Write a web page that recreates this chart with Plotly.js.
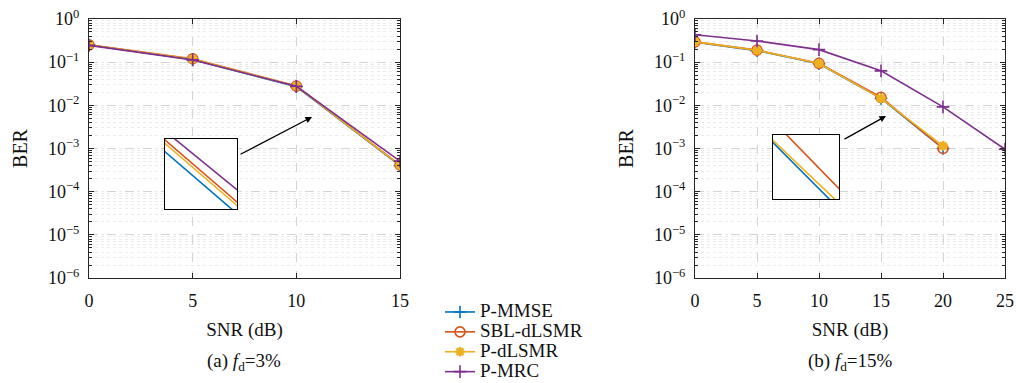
<!DOCTYPE html>
<html><head><meta charset="utf-8">
<script src="https://cdn.plot.ly/plotly-3.0.1.min.js"></script>
<style>html,body{margin:0;padding:0;background:#fff;overflow:hidden}#c{width:1016px;height:383px}</style>
</head><body><div id="c"></div>
<script>
// ---- data ----
const snrA = [0, 5, 10, 15];
const pmmseA = [0.25, 0.115, 0.027, 4.0e-4];
const sblA   = [0.252, 0.12, 0.028, 4.15e-4];
const pdlA   = [0.25, 0.118, 0.0277, 4.1e-4];
const pmrcA  = [0.245, 0.113, 0.0277, 5.1e-4];

const snrB = [0, 5, 10, 15, 20];
const snrBmrc = [0, 5, 10, 15, 20, 25];
const pmmseB = [0.29, 0.185, 0.092, 0.0145, 1.0e-3];
const sblB   = [0.295, 0.19, 0.094, 0.01536, 1.0e-3];
const pdlB   = [0.295, 0.188, 0.093, 0.0145, 1.15e-3];
const pmrcB  = [0.43, 0.31, 0.195, 0.063, 0.0092, 9.6e-4];

const names = ['P-MMSE', 'SBL-dLSMR', 'P-dLSMR', 'P-MRC'];
const xTicksA = [0, 5, 10, 15];
const xTicksB = [0, 5, 10, 15, 20, 25];
const yTickVals = [1e-6, 1e-5, 1e-4, 1e-3, 1e-2, 1e-1, 1];
const yTickText = ['10<sup>−6</sup>','10<sup>−5</sup>','10<sup>−4</sup>','10<sup>−3</sup>','10<sup>−2</sup>','10<sup>−1</sup>','10<sup>0</sup>'];
const captions = ['(a) <i>f</i><sub>d</sub>=3%', '(b) <i>f</i><sub>d</sub>=15%'];

// ---- styles ----
const colors = ['#0072BD', '#D95319', '#EDB120', '#7E2F8E'];
const F = 'Liberation Serif';
const markers = [
  {symbol: 'cross-thin-open', size: 9, line: {width: 1.6, color: colors[0]}, color: colors[0]},
  {symbol: 'circle-open', size: 10, line: {width: 1.6, color: colors[1]}, color: colors[1]},
  {symbol: 'asterisk-open', size: 8, line: {width: 2.6, color: colors[2]}, color: colors[2]},
  {symbol: 'cross-thin-open', size: 9, line: {width: 1.6, color: colors[3]}, color: colors[3]}
];
const legendName = n => '<span style="font-size:19px">' + n + '</span>';

const A = [pmmseA, sblA, pdlA, pmrcA];
const B = [pmmseB, sblB, pdlB, pmrcB];
const traces = [];
for (let i = 0; i < 4; i++) {
  traces.push({x: snrA, y: A[i], xaxis: 'x', yaxis: 'y', mode: 'lines+markers', name: legendName(names[i]),
    line: {color: colors[i], width: 1.6}, marker: markers[i], legendgroup: names[i], showlegend: true});
}
for (let i = 0; i < 4; i++) {
  traces.push({x: i === 3 ? snrBmrc : snrB, y: B[i], xaxis: 'x2', yaxis: 'y2', mode: 'lines+markers', name: names[i],
    line: {color: colors[i], width: 1.6}, marker: markers[i], legendgroup: names[i], showlegend: false});
}
// insets (zoomed views of the same data)
for (let i = 0; i < 4; i++) {
  traces.push({x: snrA, y: A[i], xaxis: 'x3', yaxis: 'y3', mode: 'lines', showlegend: false,
    line: {color: colors[i], width: 1.6}, hoverinfo: 'skip'});
}
for (let i = 0; i < 4; i++) {
  traces.push({x: i === 3 ? snrBmrc : snrB, y: B[i], xaxis: 'x4', yaxis: 'y4', mode: 'lines', showlegend: false,
    line: {color: colors[i], width: 1.6}, hoverinfo: 'skip'});
}

const yDom = [1 - 278/383, 1 - 19/383];
function xAx(dom, range, ticks, anchor) {
  return {domain: dom, range: range, anchor: anchor, tickvals: ticks, ticktext: ticks.map(String), automargin: false,
    showline: true, linecolor: '#262626', linewidth: 1, mirror: 'allticks', ticks: 'inside', ticklen: 5,
    tickcolor: '#262626', showgrid: true, gridcolor: '#d4d4d4', griddash: 'dash', gridwidth: 1, zeroline: false,
    tickfont: {family: F, size: 18, color: '#111'}, ticklabelstandoff: 6,
    title: {text: 'SNR (dB)', font: {family: F, size: 19, color: '#111'}, standoff: 13}};
}
function yAx(anchor) {
  return {domain: yDom, type: 'log', range: [-6, 0], anchor: anchor, tickvals: yTickVals, ticktext: yTickText, automargin: false,
    showline: true, linecolor: '#262626', linewidth: 1, mirror: 'allticks', ticks: 'inside', ticklen: 5,
    tickcolor: '#262626', showgrid: true, gridcolor: '#d4d4d4', griddash: 'dash', zeroline: false,
    minor: {dtick: 'D1', ticks: 'inside', ticklen: 3, tickcolor: '#262626', showgrid: true, gridcolor: '#ebebeb', griddash: 'dot'},
    tickfont: {family: F, size: 18, color: '#111'}, ticklabelstandoff: 5,
    title: {text: 'BER', font: {family: F, size: 20, color: '#111'}, standoff: 14}};
}
function insetX(dom, range, anchor) {
  return {domain: dom, range: range, anchor: anchor, showline: true, mirror: true, linecolor: '#000', linewidth: 1.3,
    showgrid: false, zeroline: false, ticks: '', showticklabels: false, automargin: false};
}
function insetY(dom, range, anchor) {
  return {domain: dom, type: 'log', range: range, anchor: anchor, showline: true, mirror: true, linecolor: '#000', linewidth: 1.3,
    showgrid: false, zeroline: false, ticks: '', showticklabels: false, automargin: false};
}

const layout = {
  width: 1016, height: 383, margin: {l: 0, r: 0, t: 0, b: 0, autoexpand: false},
  paper_bgcolor: '#fff', plot_bgcolor: '#fff', font: {family: F, color: '#111'},
  xaxis: xAx([89/1016, 400/1016], [0, 15], xTicksA, 'y'),
  yaxis: yAx('x'),
  xaxis2: xAx([695/1016, 1005/1016], [0, 25], xTicksB, 'y2'),
  yaxis2: yAx('x2'),
  xaxis3: insetX([165/1016, 237/1016], [10.9, 11.13], 'y3'),
  yaxis3: insetY([1 - 209/383, 1 - 139/383], [-1.9757, -1.8807], 'x3'),
  xaxis4: insetX([773/1016, 839/1016], [15.2, 15.516], 'y4'),
  yaxis4: insetY([1 - 199/383, 1 - 135/383], [-1.9476, -1.8766], 'x4'),
  showlegend: true,
  legend: {x: 440/1016, y: 1 - 297/383, xanchor: 'left', yanchor: 'top', bgcolor: 'rgba(255,255,255,0)',
    font: {family: F, size: 13, color: '#111'}, tracegroupgap: 0, itemwidth: 30},
  annotations: [
    {text: captions[0], xref: 'paper', yref: 'paper', x: 244/1016, y: 1 - 362/383, showarrow: false,
      font: {family: F, size: 19, color: '#111'}, xanchor: 'center', yanchor: 'middle'},
    {text: captions[1], xref: 'paper', yref: 'paper', x: 850/1016, y: 1 - 362/383, showarrow: false,
      font: {family: F, size: 19, color: '#111'}, xanchor: 'center', yanchor: 'middle'},
    {text: '', xref: 'paper', yref: 'paper', axref: 'paper', ayref: 'paper',
      x: 312/1016, y: 1 - 117/383, ax: 239/1016, ay: 1 - 155/383, showarrow: true,
      arrowhead: 2, arrowsize: 1, arrowwidth: 1.3, arrowcolor: '#000'},
    {text: '', xref: 'paper', yref: 'paper', axref: 'paper', ayref: 'paper',
      x: 886/1016, y: 1 - 116/383, ax: 843/1016, ay: 1 - 140/383, showarrow: true,
      arrowhead: 2, arrowsize: 1, arrowwidth: 1.3, arrowcolor: '#000'}
  ]
};
Plotly.newPlot('c', traces, layout, {displayModeBar: false, staticPlot: true});
</script></body></html>
